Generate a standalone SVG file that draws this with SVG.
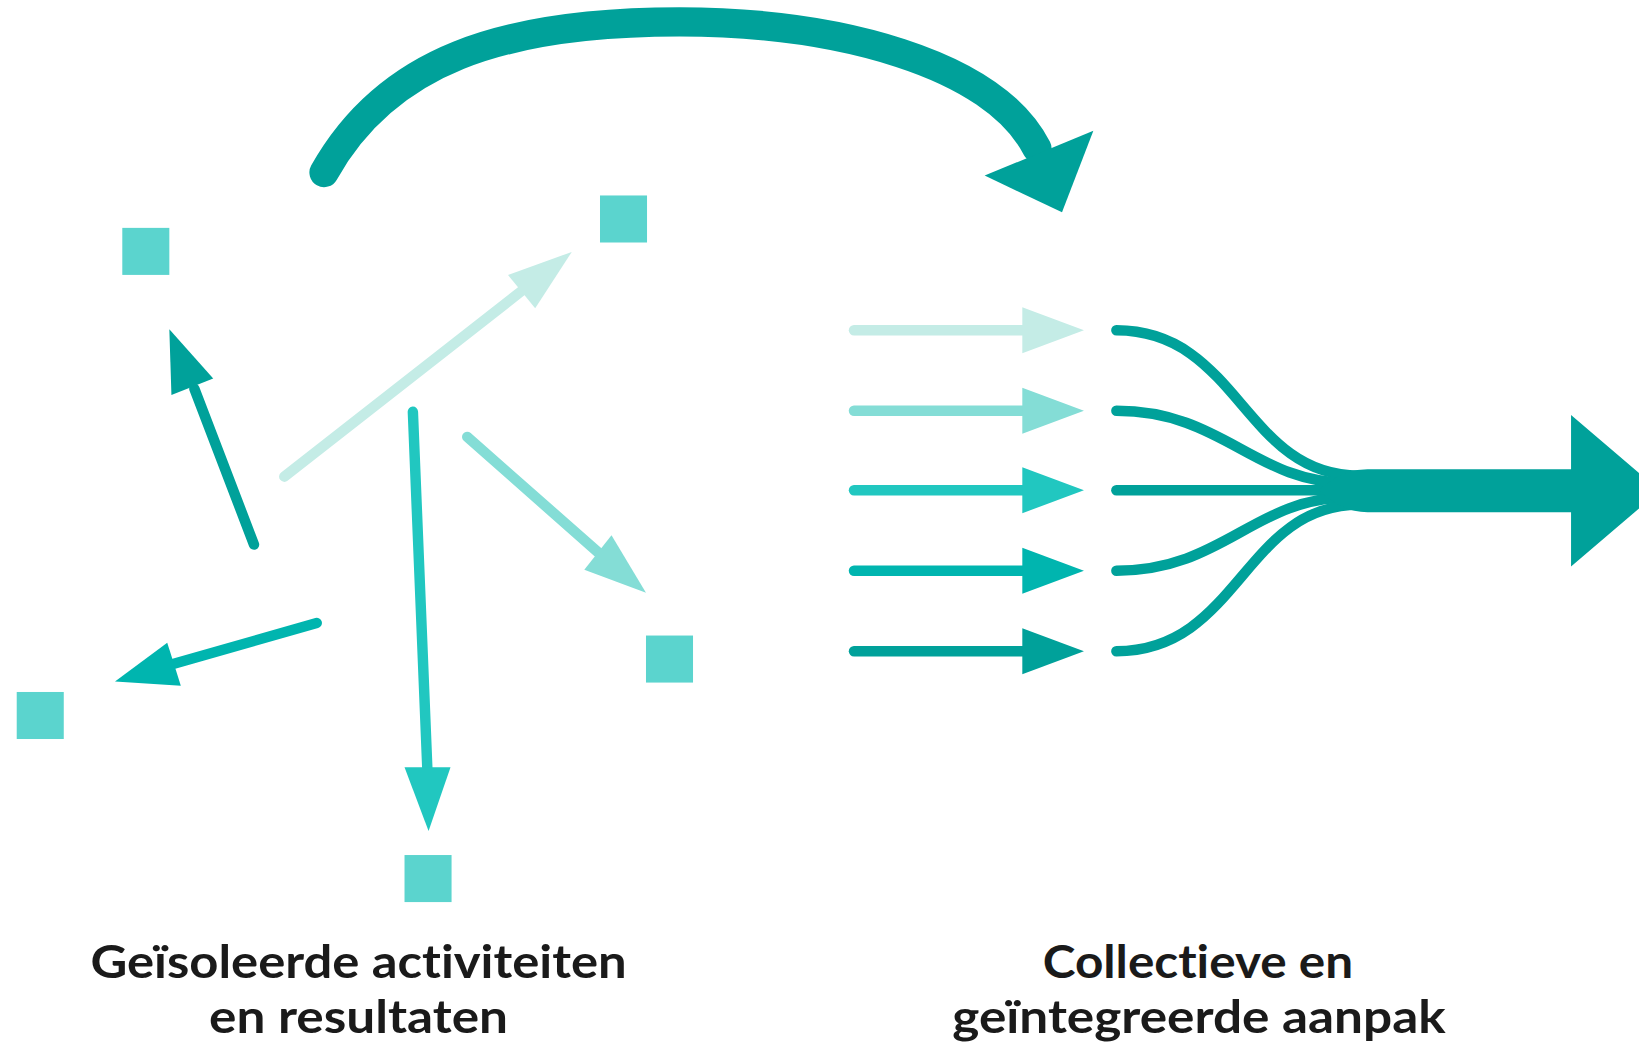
<svg xmlns="http://www.w3.org/2000/svg" width="1639" height="1044" viewBox="0 0 1639 1044">
<style>
.sq{fill:#5BD4CE}
.ln{fill:none;stroke-width:10;stroke-linecap:round}
.c0{stroke:#C4ECE6}.f0{fill:#C4ECE6}
.c1{stroke:#84DDD6}.f1{fill:#84DDD6}
.c2{stroke:#21C7C0}.f2{fill:#21C7C0}
.c3{stroke:#00B5AF}.f3{fill:#00B5AF}
.c4{stroke:#00A19A}.f4{fill:#00A19A}
.lbl{font-family:Lato,"Open Sans","Liberation Sans",sans-serif;font-weight:700;font-size:44px;fill:#1a1a1a;text-anchor:middle;font-variant-ligatures:none;font-feature-settings:"liga" 0}
</style>
<rect width="1639" height="1044" fill="#ffffff"/>
<g transform="scale(1.04528)">
<g id="nodes">
<g id="sq1"><rect class="sq" x="117" y="218" width="45" height="45"/></g>
<g id="sq2"><rect class="sq" x="574" y="187" width="45" height="45"/></g>
<g id="sq3"><rect class="sq" x="16" y="662" width="45" height="45"/></g>
<g id="sq4"><rect class="sq" x="618" y="608" width="45" height="45"/></g>
<g id="sq5"><rect class="sq" x="387" y="818" width="45" height="45"/></g>
<g id="label-left">
<text class="lbl" x="343" y="936" textLength="513" lengthAdjust="spacingAndGlyphs">Geïsoleerde activiteiten</text>
<text class="lbl" x="343" y="988" textLength="286" lengthAdjust="spacingAndGlyphs">en resultaten</text>
</g>
<g id="label-right">
<text class="lbl" x="1146" y="936" textLength="297" lengthAdjust="spacingAndGlyphs">Collectieve en</text>
<text class="lbl" x="1147" y="988" textLength="472" lengthAdjust="spacingAndGlyphs">geïntegreerde aanpak</text>
</g>
</g>
<g id="connectors">
<path d="M310,165 C370,58 480,21 650,21 C800,21 950,60 992,142" fill="none" stroke="#00A19A" stroke-width="28" stroke-linecap="round"/>
<polygon class="f4" points="942,168 1046,125 1016,203"/>
<line class="ln c4" x1="243" y1="521" x2="186" y2="372"/>
<polygon class="f4" points="162,315 204,362 164,378"/>
<line class="ln c0" x1="272" y1="456" x2="502" y2="276"/>
<polygon class="f0" points="547,241 486,263 512,295"/>
<line class="ln c2" x1="395" y1="394" x2="409" y2="740"/>
<polygon class="f2" points="387,734 431,734 410,795"/>
<line class="ln c1" x1="447" y1="418" x2="574" y2="530"/>
<polygon class="f1" points="585,512 618,567 559,545"/>
<line class="ln c3" x1="303" y1="596" x2="163" y2="636"/>
<polygon class="f3" points="160,615 110,652 173,656"/>
<line class="ln c0" x1="817" y1="316" x2="985" y2="316"/>
<polygon class="f0" points="978,294 1037,316 978,338"/>
<line class="ln c1" x1="817" y1="393" x2="985" y2="393"/>
<polygon class="f1" points="978,371 1037,393 978,415"/>
<line class="ln c2" x1="817" y1="469" x2="985" y2="469"/>
<polygon class="f2" points="978,447 1037,469 978,491"/>
<line class="ln c3" x1="817" y1="546" x2="985" y2="546"/>
<polygon class="f3" points="978,524 1037,546 978,568"/>
<line class="ln c4" x1="817" y1="623" x2="985" y2="623"/>
<polygon class="f4" points="978,601 1037,623 978,645"/>
<path class="ln c4" d="M1068,316 C1185,316 1190,455 1300,455 L1330,455"/>
<path class="ln c4" d="M1068,393 C1170,393 1200,462 1290,462 L1330,462"/>
<path class="ln c4" d="M1068,469 L1330,469"/>
<path class="ln c4" d="M1068,546 C1170,546 1200,476 1290,476 L1330,476"/>
<path class="ln c4" d="M1068,623 C1185,623 1190,483 1300,483 L1330,483"/>
<path class="f4" d="M1262,469 C1282,452 1292,449 1312,449 L1503,449 L1503,397 L1588,469.5 L1503,542 L1503,490 L1312,490 C1292,490 1282,486 1262,469 Z"/>
</g>
</g>
</svg>
